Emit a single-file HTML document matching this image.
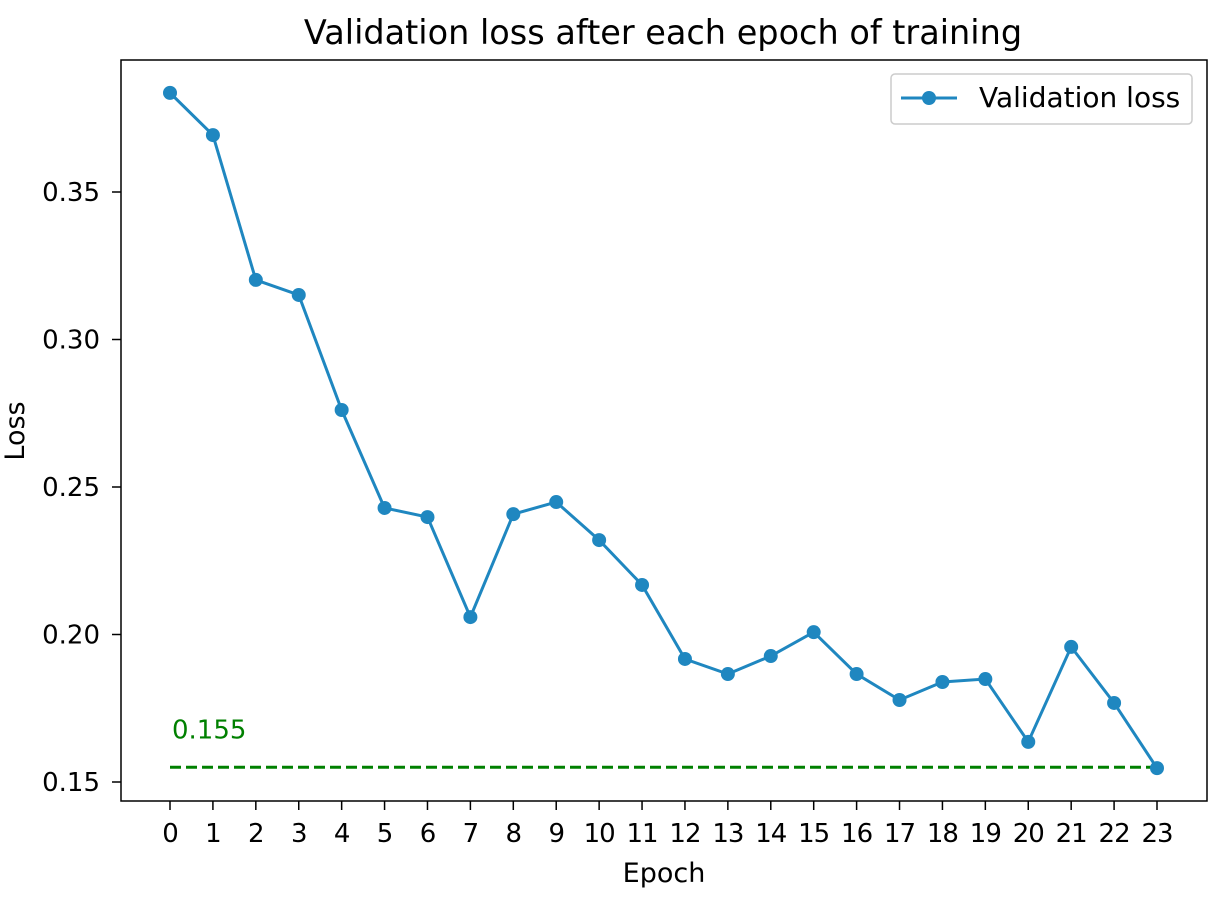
<!DOCTYPE html>
<html><head><meta charset="utf-8"><style>
body{margin:0;background:#fff}
svg text{font-family:"DejaVu Sans","Liberation Sans",sans-serif;fill:#000}
</style></head><body>
<svg id="chart" width="1228" height="896" xmlns="http://www.w3.org/2000/svg"></svg>
<script>
const epochs=[0,1,2,3,4,5,6,7,8,9,10,11,12,13,14,15,16,17,18,19,20,21,22,23];
const lossValues=[0.3836,0.3693,0.3202,0.3151,0.2761,0.2429,0.2398,0.2059,0.2408,0.2449,0.2320,0.2168,0.1917,0.1866,0.1927,0.2008,0.1866,0.1778,0.1839,0.1849,0.1636,0.1958,0.1768,0.1547];
const yTicks=[0.15,0.20,0.25,0.30,0.35];
const yTickLabels=["0.15","0.20","0.25","0.30","0.35"];
const minLoss=0.155;
const minLabel="0.155";

const svg=document.getElementById('chart');
const NS="http://www.w3.org/2000/svg";
const L=121,R=1207,T=60,B=801;
const x=e=>170+e*(1157-170)/23;
const y=v=>782-(v-0.15)*2950;
function mk(tag,attrs,parent){const el=document.createElementNS(NS,tag);for(const k in attrs)el.setAttribute(k,attrs[k]);(parent||svg).appendChild(el);return el;}

const title=mk('text',{x:663,y:44,'text-anchor':'middle','font-size':'33.5'});


title.textContent='Validation loss after each epoch of training';

const frame=mk('rect',{x:L,y:T,width:R-L,height:B-T,fill:'none',stroke:'#000','stroke-width':1.5});



epochs.forEach(e=>{
  const t=mk('line',{x1:x(e),x2:x(e),y1:B,y2:B+9,stroke:'#000','stroke-width':1.5});
  
  
  const lb=mk('text',{x:x(e),y:B+41,'text-anchor':'middle','font-size':'26','letter-spacing':'-1'});
  
  
  lb.textContent=String(e);
});
yTicks.forEach((v,i)=>{
  const t=mk('line',{x1:L-9,x2:L,y1:y(v),y2:y(v),stroke:'#000','stroke-width':1.5});
  
  
  const lb=mk('text',{x:L-21,y:y(v)+9,'text-anchor':'end','font-size':'26'});
  
  
  lb.textContent=yTickLabels[i];
});
const xt=mk('text',{x:664,y:882,'text-anchor':'middle','font-size':'27'});


xt.textContent='Epoch';
const yt=mk('text',{x:24,y:431,'text-anchor':'middle','font-size':'27',transform:'rotate(-90 24 431)'});


yt.textContent='Loss';

const ml=mk('line',{x1:x(0),x2:x(epochs[epochs.length-1]),y1:y(minLoss),y2:y(minLoss),stroke:'#008000','stroke-width':3,'stroke-dasharray':'11 5'});


const mt=mk('text',{x:x(0)+2,y:y(minLoss)-29,'font-size':'26',style:'fill:#008000'});


mt.textContent=minLabel;

const line=mk('polyline',{points:epochs.map((e,i)=>x(e)+','+y(lossValues[i])).join(' '),fill:'none',stroke:'#1f87c0','stroke-width':3});


epochs.forEach((e,i)=>{
  const c=mk('circle',{cx:x(e),cy:y(lossValues[i]),r:7,fill:'#1f87c0'});
  
  
});

const lg=mk('g',{});


mk('rect',{x:891,y:74,width:301,height:50,rx:4,fill:'#fff',stroke:'#ccc','stroke-width':1.5},lg);
mk('line',{x1:901,x2:957,y1:98,y2:98,stroke:'#1f87c0','stroke-width':3},lg);
mk('circle',{cx:929,cy:98,r:7,fill:'#1f87c0'},lg);
const lt=mk('text',{x:979,y:107,'font-size':'28'},lg);


lt.textContent='Validation loss';
</script>
</body></html>
